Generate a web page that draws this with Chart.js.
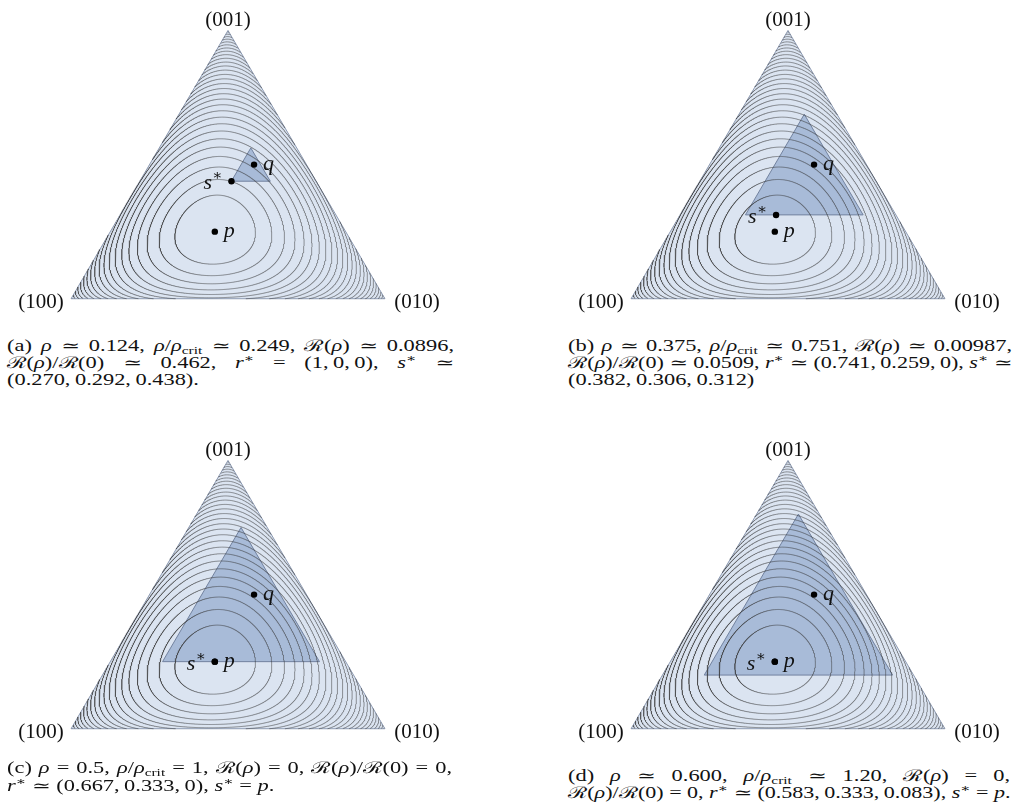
<!DOCTYPE html>
<html><head><meta charset="utf-8">
<script src="https://cdn.jsdelivr.net/npm/chart.js@4.4.0/dist/chart.umd.min.js"></script>
<style>
body{margin:0;background:#fff;width:1016px;height:811px;position:relative;overflow:hidden;font-family:"Liberation Serif","DejaVu Serif",serif;color:#111}
canvas{position:absolute}
.vl{position:absolute;font-size:21px;line-height:1;white-space:nowrap;transform:translate(-50%,-50%)}
.pl{position:absolute;font-size:22px;line-height:1;white-space:nowrap;font-style:italic}
.cap{position:absolute;font-size:16px;line-height:17px;white-space:nowrap;transform-origin:0 0}
.cap sub{font-size:11px;vertical-align:-3px;line-height:0}
.cap sup{font-size:11px;vertical-align:6px;line-height:0}
.pl sup{font-size:15px;vertical-align:9px;line-height:0;font-style:normal}
</style></head>
<body>
<script>
// ---- data ----
const P = [0.417, 0.333, 0.250];          // p (barycentric)
const Q = [0.167, 0.333, 0.500];          // q
const RHO = [0.124, 0.375, 0.5, 0.6];     // rho per panel
const S_A = [0.270, 0.292, 0.438];
const S_B = [0.382, 0.306, 0.312];
const S_C = [0.417, 0.333, 0.250];
const S_D = [0.417, 0.333, 0.250];
const LEVELS = [0.045,0.089,0.134,0.179,0.224,0.268,0.313,0.358,0.402,0.447,0.492,0.537,0.581,0.626,0.671,0.716,0.760,0.805,0.850,0.894,0.939,0.984,1.029,1.073,1.118,1.163,1.207,1.252,1.297,1.342];
const VERTEX_LABELS = ['(100)', '(010)', '(001)'];
const CAPTIONS = [
 ['(a) <i>ρ</i> ≃ 0.124, <i>ρ</i>/<i>ρ</i><sub>crit</sub> ≃ 0.249, ℛ(<i>ρ</i>) ≃ 0.0896,',
  'ℛ(<i>ρ</i>)/ℛ(0) ≃ 0.462, <i>r</i><sup>∗</sup> = (1,&thinsp;0,&thinsp;0), <i>s</i><sup>∗</sup> ≃',
  '(0.270,&thinsp;0.292,&thinsp;0.438).'],
 ['(b) <i>ρ</i> ≃ 0.375, <i>ρ</i>/<i>ρ</i><sub>crit</sub> ≃ 0.751, ℛ(<i>ρ</i>) ≃ 0.00987,',
  'ℛ(<i>ρ</i>)/ℛ(0) ≃ 0.0509, <i>r</i><sup>∗</sup> ≃ (0.741,&thinsp;0.259,&thinsp;0), <i>s</i><sup>∗</sup> ≃',
  '(0.382,&thinsp;0.306,&thinsp;0.312)'],
 ['(c) <i>ρ</i> = 0.5, <i>ρ</i>/<i>ρ</i><sub>crit</sub> = 1, ℛ(<i>ρ</i>) = 0, ℛ(<i>ρ</i>)/ℛ(0) = 0,',
  '<i>r</i><sup>∗</sup> ≃ (0.667,&thinsp;0.333,&thinsp;0), <i>s</i><sup>∗</sup> = <i>p</i>.'],
 ['(d) <i>ρ</i> ≃ 0.600, <i>ρ</i>/<i>ρ</i><sub>crit</sub> ≃ 1.20, ℛ(<i>ρ</i>) = 0,',
  'ℛ(<i>ρ</i>)/ℛ(0) = 0, <i>r</i><sup>∗</sup> ≃ (0.583,&thinsp;0.333,&thinsp;0.083), <i>s</i><sup>∗</sup> = <i>p</i>.']
];
const SSTAR = [S_A, S_B, S_C, S_D];

// ---- layout ----
const PANELS = [
 {vx:68,  vy:302, cap:{x:7,   w:447, tops:[337,354,371]}},
 {vx:628, vy:302, cap:{x:568, w:444, tops:[337,354,371]}},
 {vx:68,  vy:732, cap:{x:7,   w:445, tops:[759,777]}},
 {vx:628, vy:732, cap:{x:568, w:442, tops:[767,784]}}
];
const CW=420, CH=330, PXU=320, PYU=317.5, OFFL=50, OFFB=30;
const SQ = Math.sqrt(3)/2;
const toXY = b => ({x: b[1] + b[2]/2, y: b[2]*SQ});

function D(s){ let v=0; for(let i=0;i<3;i++){ if(s[i]>0) v += s[i]*Math.log(s[i]/P[i]); } return v; }

// contour lines of D(s||p) traced along rays from p
const NANG = 1600;
function contour(L){
  const pts=[];
  for(let k=0;k<=NANG;k++){
    const th = 2*Math.PI*k/NANG;
    const d3 = Math.sin(th)/SQ, d2 = Math.cos(th)-d3/2, d1 = -d2-d3;
    const d=[d1,d2,d3];
    let tmax=Infinity;
    for(let i=0;i<3;i++) if(d[i]<0) tmax=Math.min(tmax,-P[i]/d[i]);
    const at = t => [P[0]+t*d[0], P[1]+t*d[1], P[2]+t*d[2]].map(v=>Math.max(v,0));
    if(D(at(tmax))<L){ pts.push({x:null,y:null}); continue; }
    let lo=0, hi=tmax;
    for(let it=0;it<42;it++){ const m=(lo+hi)/2; if(D(at(m))<L) lo=m; else hi=m; }
    pts.push(toXY(at((lo+hi)/2)));
  }
  return pts;
}
const CONTOURS = LEVELS.map(contour);

function addDiv(cls, html, x, y){
  const e=document.createElement('div'); e.className=cls; e.innerHTML=html;
  e.style.left=x+'px'; e.style.top=y+'px'; document.body.appendChild(e); return e;
}

PANELS.forEach((pn, idx)=>{
  const cv=document.createElement('canvas');
  cv.width=CW; cv.height=CH;
  const cl = pn.vx-OFFL, ct = pn.vy-(CH-OFFB);
  cv.style.left=cl+'px'; cv.style.top=ct+'px'; cv.style.width=CW+'px'; cv.style.height=CH+'px';
  document.body.appendChild(cv);
  const rho=RHO[idx];
  const E=[[1,0,0],[0,1,0],[0,0,1]];
  const tri = [0,1,2,0].map(i=>toXY(E[i]));
  const sub = [0,1,2,0].map(i=>toXY(Q.map((qv,j)=>(1-rho)*qv+rho*E[i][j])));
  const ds=[];
  ds.push({data:tri, showLine:true, fill:'shape', backgroundColor:'rgb(219,228,241)', borderColor:'#8d9ab2', borderWidth:1, pointRadius:0, order:10});
  ds.push({data:sub, showLine:true, fill:'shape', backgroundColor:'rgb(168,187,216)', borderColor:'#72829f', borderWidth:1, pointRadius:0, order:9});
  CONTOURS.forEach(c=>ds.push({data:c, showLine:true, fill:false, borderColor:'rgba(55,55,55,0.72)', borderWidth:0.7, pointRadius:0, spanGaps:false, order:5}));
  const mk=[P,Q,SSTAR[idx]].map(toXY);
  ds.push({data:mk, showLine:false, pointRadius:3.2, pointBackgroundColor:'#000', pointBorderWidth:0, order:0});
  const ch=new Chart(cv,{type:'scatter',data:{datasets:ds},options:{
    responsive:false, animation:false, devicePixelRatio:1, events:[],
    layout:{padding:0},
    plugins:{legend:{display:false},tooltip:{enabled:false}},
    scales:{x:{type:'linear',display:false,min:-OFFL/PXU,max:(CW-OFFL)/PXU},
            y:{type:'linear',display:false,min:-OFFB/PYU,max:(CH-OFFB)/PYU}}
  }});
  const pix = pt => ({x: cl+ch.scales.x.getPixelForValue(pt.x), y: ct+ch.scales.y.getPixelForValue(pt.y)});
  // vertex labels
  const v0=pix(tri[0]), v1=pix(tri[1]), v2=pix(tri[2]);
  addDiv('vl', VERTEX_LABELS[0], v0.x-30, v0.y+2);
  addDiv('vl', VERTEX_LABELS[1], v1.x+32, v1.y+2);
  addDiv('vl', VERTEX_LABELS[2], v2.x, v2.y-11);
  // point labels
  const pp=pix(mk[0]), qq=pix(mk[1]), ss=pix(mk[2]);
  addDiv('pl','p', pp.x+9, pp.y-13);
  addDiv('pl','q', qq.x+9, qq.y-13);
  const se=addDiv('pl','s<sup>∗</sup>', 0, ss.y-10);
  se.style.left=(ss.x-9-se.offsetWidth)+'px';
  // caption
  const cap=pn.cap, lines=CAPTIONS[idx], SX=1.4;
  lines.forEach((ln,li)=>{
    const e=addDiv('cap', ln, cap.x, cap.tops[li]);
    const nat=e.scrollWidth;
    const last = li===lines.length-1;
    let s=SX; if(nat*s>cap.w) s=cap.w/nat;
    if(!last){
      e.style.width=(cap.w/s)+'px'; e.style.textAlign='justify'; e.style.textAlignLast='justify';
    }
    e.style.transform='scaleX('+s+')';
  });
});
</script>
</body></html>
